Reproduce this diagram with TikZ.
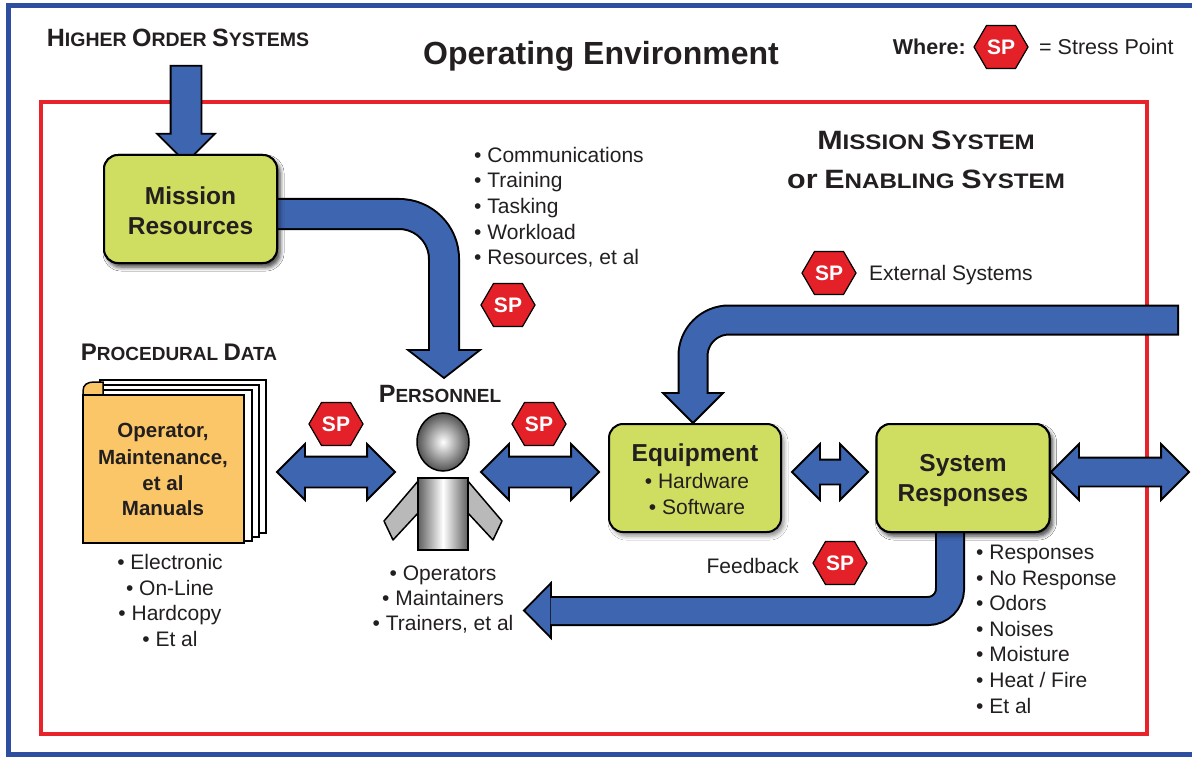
\documentclass[tikz,border=0pt]{standalone}
\usepackage{fontspec}
\setmainfont{Liberation Sans}
\newfontfamily\widefont{Liberation Sans}[FakeStretch=1.15]
\usetikzlibrary{shapes.arrows,shadows.blur}

\definecolor{arrowblue}{RGB}{62,101,176}
\definecolor{boxgreen}{RGB}{207,221,96}
\definecolor{spred}{RGB}{228,32,40}
\definecolor{framered}{RGB}{232,36,42}
\definecolor{frameblue}{RGB}{46,78,160}
\definecolor{manualorange}{RGB}{251,198,103}
\definecolor{ink}{RGB}{35,31,32}

\newcommand\fs[1]{\fontsize{#1}{#1}\selectfont}
% fake small caps: first letter large, the rest smaller capitals
\newcommand\scw[2]{{\fs{\scA}#1}{\fs{\scB}#2}}

\tikzset{
  reg/.style={inner sep=0pt, text=ink, font=\fs{21}, text height=15pt, text depth=0pt},
  boldtxt/.style={inner sep=0pt, text=ink, font=\bfseries\fs{24.5}, text height=17.5pt, text depth=0pt},
  mantxt/.style={inner sep=0pt, text=ink, font=\bfseries\fs{20.5}, text height=14.7pt, text depth=0pt},
  greenbox/.style={draw=black, line width=2pt, fill=boxgreen, rounded corners=14pt, inner sep=0pt,
    blur shadow={shadow xshift=3pt, shadow yshift=-4pt, shadow blur radius=4pt, shadow opacity=45}},
  dblarrow/.style={double arrow, draw=black, line width=1.8pt, fill=arrowblue, inner sep=0pt},
  sglarrow/.style={single arrow, draw=black, line width=1.8pt, fill=arrowblue, inner sep=0pt},
  headtip/.style={fill=arrowblue, draw=black, line width=1.8pt, line join=miter},
  stresspt/.pic={
    \draw[black, line width=1.2pt, fill=spred] (-27,0) -- (-14.5,-21.5) -- (14.5,-21.5) -- (27,0) -- (14.5,21.5) -- (-14.5,21.5) -- cycle;
    \node[text=white, inner sep=0pt, font=\bfseries\fs{21}, text height=15pt, text depth=0pt] (-c) at (0,0) {SP};
  }
}

\begin{document}
\begin{tikzpicture}[x=1pt, y=-1pt]
\useasboundingbox (0,0) rectangle (1192,757);
\fill[white] (0,0) rectangle (1192,757);

% outer frame and mission system frame
\draw[frameblue, line width=5pt] (8,5.5) rectangle (1210,754.5);
\draw[framered, line width=4pt] (41,102) rectangle (1147,733.5);

% headings
\node[inner sep=0pt, text=ink, font=\bfseries\def\scA{25}\def\scB{19.5}\fs{19.5}, text height=18pt, text depth=0pt] (higher) at (178,38)
  {\scw{H}{IGHER} \scw{O}{RDER} \scw{S}{YSTEMS}};
\node[inner sep=0pt, text=ink, font=\bfseries\fs{32}, text height=23pt, text depth=0pt] (title) at (601,53) {Operating Environment};
\node[inner sep=0pt, text=ink, font=\bfseries\fs{21.5}, text height=15.4pt, text depth=0pt, anchor=east] (where) at (966,47) {Where:};
\pic (splegend) at (1001,47) {stresspt};
\node[reg, font=\fs{21.5}, anchor=west] (legend) at (1039,47) {= Stress Point};

\node[inner sep=0pt, text=ink, font=\widefont\bfseries\def\scA{26.5}\def\scB{21}\fs{21}, text height=19pt, text depth=0pt] (mss1) at (926,140)
  {\scw{M}{ISSION} \scw{S}{YSTEM}};
\node[inner sep=0pt, text=ink, font=\widefont\bfseries\def\scA{26.5}\def\scB{21}\fs{21}, text height=19pt, text depth=0pt] (mss2) at (926,179)
  {{\fs{26.5}or} \scw{E}{NABLING} \scw{S}{YSTEM}};

% boxes
\node[greenbox, minimum width=173pt, minimum height=108pt] (mres) at (190.5,209) {};
\node[greenbox, minimum width=172pt, minimum height=108pt] (equip) at (695,478) {};
\node[greenbox, minimum width=173pt, minimum height=108pt] (sysresp) at (963,478) {};

% higher order systems feed the mission resources
\node[sglarrow, rotate=-90, minimum height=97pt, text height=14.5pt, text depth=14.5pt,
      single arrow head extend=13.5pt] (hoarrow) at (186,106.5) {};

% mission resources to personnel
\coordinate (mrstart) at ([xshift=-12pt, yshift=-5pt]mres.east);
\draw[black, line width=32pt, rounded corners=45pt] (mrstart) -- (444,214) -- (444,351);
\draw[headtip] (408,350) -- (480,350) -- (444,378) -- cycle;
\draw[arrowblue, line width=28pt, rounded corners=45pt] (mrstart) -- (444,214) -- (444,351.5);

% external systems into the equipment
\coordinate (extsys) at (1179,320);
\draw[black, line width=31pt, rounded corners=36pt] (extsys) -- (693,320) -- (693,394);
\draw[headtip] (663,393) -- (723,393) -- (693,423) -- cycle;
\draw[arrowblue, line width=27pt, rounded corners=36pt] ([xshift=-2pt]extsys) -- (693,320) -- (693,394.5);

% feedback from system responses back to the personnel
\coordinate (fbstart) at (950,520);
\draw[black, line width=30pt, rounded corners=22pt] (fbstart) -- (950,611) -- (552,611);
\draw[headtip] (551,583) -- (551,638) -- (524,610.5) -- cycle;
\draw[arrowblue, line width=26pt, rounded corners=22pt] (fbstart) -- (950,611) -- (550.5,611);

% redraw the boxes over the start of the bent arrows
\node[greenbox, minimum width=173pt, minimum height=108pt] (sysresp2) at (963,478) {};
\node[greenbox, minimum width=173pt, minimum height=108pt] (mres2) at (190.5,209) {};

% box texts
\node[boldtxt] (mres-a) at (190.5,196) {Mission};
\node[boldtxt] (mres-b) at (190.5,226) {Resources};
\node[boldtxt] (equip-a) at (695,453) {Equipment};
\node[reg] (equip-b) at (697,481) {• Hardware};
\node[reg] (equip-c) at (697,507) {• Software};
\node[boldtxt] (sys-a) at (963,463) {System};
\node[boldtxt] (sys-b) at (963,493) {Responses};

% two-way exchanges
\node[dblarrow, minimum height=118pt, text height=14.5pt, text depth=14.5pt, double arrow head extend=12.5pt] (pdarrow) at (336,472) {};
\node[dblarrow, minimum height=118pt, text height=14.5pt, text depth=14.5pt, double arrow head extend=12.5pt] (pearrow) at (540,472) {};
\node[dblarrow, minimum height=76pt, text height=11.5pt, text depth=11.5pt, double arrow head extend=15.5pt] (esarrow) at (830,472) {};
\node[dblarrow, minimum height=138pt, text height=13.5pt, text depth=13.5pt, double arrow head extend=13.5pt] (outarrow) at (1120,472) {};

% procedural data: a stack of manuals
\node[inner sep=0pt, text=ink, font=\bfseries\def\scA{24}\def\scB{19}\fs{19}, text height=17pt, text depth=0pt] (procdata) at (179,352)
  {\scw{P}{ROCEDURAL} \scw{D}{ATA}};
\draw[black, line width=1.5pt, fill=white] (100,380) rectangle (266,533);
\draw[black, line width=1.5pt, fill=white] (94,385) rectangle (259,537);
\draw[black, line width=1.5pt, fill=white] (89,390) rectangle (252,541);
\draw[black, line width=1.5pt, fill=manualorange] (83,397) -- (83,391) .. controls (83,385) and (87,382) .. (94,382) -- (103,382) -- (103,397) -- cycle;
\draw[black, line width=2pt, fill=manualorange] (83,395) rectangle (244,543);
\node[mantxt] (man-a) at (163,430) {Operator,};
\node[mantxt] (man-b) at (163,457) {Maintenance,};
\node[mantxt] (man-c) at (163,483) {et al};
\node[mantxt] (man-d) at (163,508) {Manuals};
\foreach \t [count=\i from 0] in {Electronic, On-Line, Hardcopy, Et al}
  \node[reg] (media-\i) at (170,{562+25.7*\i}) {• \t};

% personnel
\node[inner sep=0pt, text=ink, font=\bfseries\def\scA{25}\def\scB{19}\fs{19}, text height=18pt, text depth=0pt] (personnel) at (440,393)
  {\scw{P}{ERSONNEL}};
\draw[black, line width=1.5pt, fill=gray!55, line join=round] (419,480) -- (384,521) -- (393,540) -- (419,512) -- cycle;
\draw[black, line width=1.5pt, fill=gray!55, line join=round] (467,480) -- (502,521) -- (493,540) -- (467,512) -- cycle;
\draw[black, line width=1.5pt, left color=gray!75!black, right color=gray!75!black, middle color=white] (418,478) rectangle (468,550);
\draw[black, line width=1.5pt, inner color=white, outer color=gray!65!black] (443,442) ellipse [x radius=26, y radius=29];
\foreach \t [count=\i from 0] in {Operators, Maintainers, {Trainers, et al}}
  \node[reg] (staff-\i) at (443,{573+25*\i}) {• \t};

% mission resources list
\foreach \t [count=\i from 0] in {Communications, Training, Tasking, Workload, {Resources, et al}}
  \node[reg, anchor=west] (res-\i) at (474,{155+25.5*\i}) {• \t};

% stress points
\pic (sp-res) at (508,305) {stresspt};
\pic (sp-ext) at (829,273) {stresspt};
\pic (sp-pd) at (336,424) {stresspt};
\pic (sp-pe) at (539,424) {stresspt};
\pic (sp-fb) at (840,563) {stresspt};
\node[reg, anchor=west] (extlabel) at (869,273) {External Systems};
\node[reg, anchor=east] (fblabel) at (799,566) {Feedback};

% system responses list
\foreach \t [count=\i from 0] in {Responses, No Response, Odors, Noises, Moisture, Heat / Fire, Et al}
  \node[reg, anchor=west] (resp-\i) at (976,{552+25.6*\i}) {• \t};
\end{tikzpicture}
\end{document}
